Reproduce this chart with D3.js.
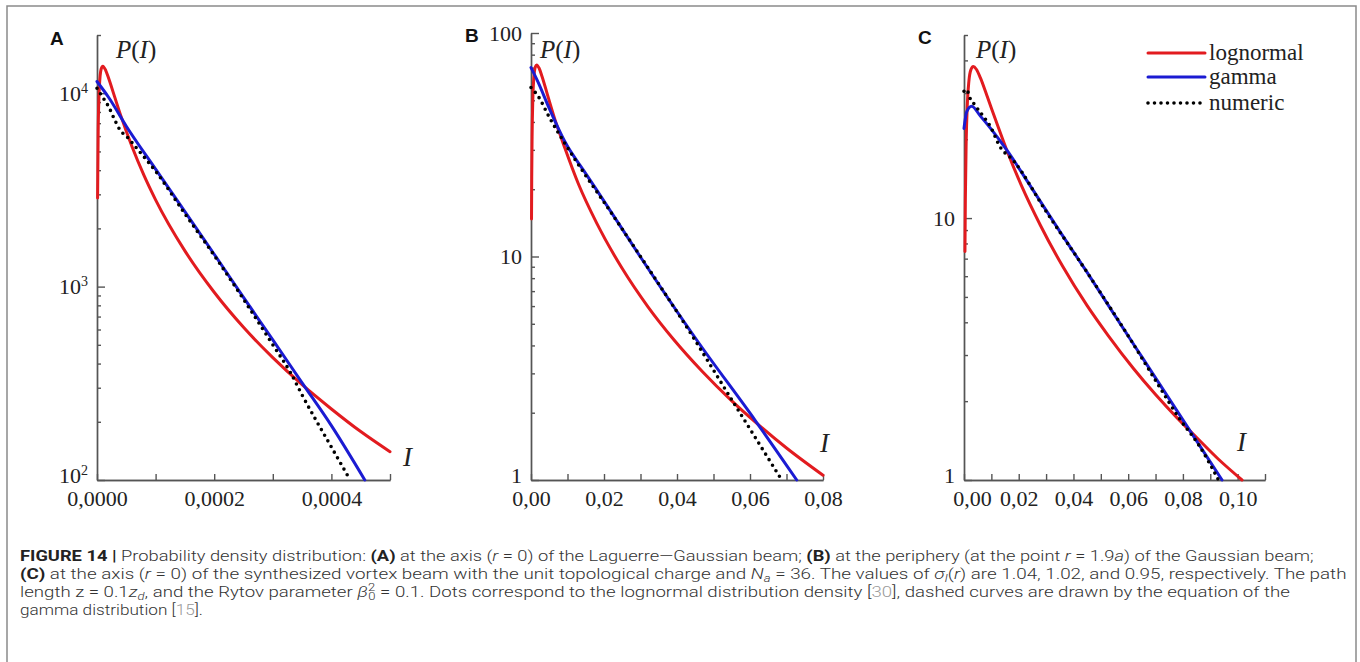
<!DOCTYPE html>
<html lang="en">
<head>
<meta charset="UTF-8">
<title>Figure 14</title>
<script src="https://cdn.jsdelivr.net/npm/d3@7"></script>
<style>
    body { margin: 0; padding: 0; background: #fff; }
    .axis path, .axis line { stroke: #555; stroke-width: 1.4; }
    .axis text { font-family: "Liberation Serif", "Times New Roman", serif; font-size: 22px; fill: #222; }
    .curve { fill: none; stroke-width: 3; stroke-linejoin: round; stroke-linecap: round; }
    .dots { fill: none; stroke: #000; stroke-width: 3.6; stroke-linecap: round; stroke-dasharray: 0 6.5; }
    .serif { font-family: "Liberation Serif", "Times New Roman", serif; fill: #222; }
    .plabel { font-family: "Liberation Sans", Arial, sans-serif; font-weight: bold; font-size: 19px; fill: #111; }
    .caption { font-family: Roboto, "Liberation Sans", sans-serif; font-size: 15px; font-weight: 300; fill: #333; }
</style>
</head>
<body>
<svg width="1360" height="662"></svg>
<script>
// значения: [I, P(I)]
var lognormalA = [[0.000001, 2870], [0.000002, 6350], [0.000004, 10700], [0.000007, 13300], [0.00001, 13800],
    [0.000015, 13100], [0.00002, 11900], [0.00003, 9600], [0.00004, 7750], [0.00006, 5270], [0.00008, 3770],
    [0.0001, 2810], [0.00015, 1530], [0.0002, 935], [0.00025, 616], [0.0003, 429], [0.00035, 311],
    [0.0004, 233], [0.00045, 178], [0.0005, 140]];
var gammaA = [[0, 11500], [0.00002, 9500], [0.00005, 6750], [0.0001, 4050], [0.00015, 2440], [0.0002, 1470],
    [0.00025, 880], [0.0003, 530], [0.00035, 318], [0.0004, 191], [0.000457, 100]];
var numericA = [[0, 10600], [0.00001, 9500], [0.00002, 8500], [0.00003, 7300], [0.00004, 6400], [0.00005, 6000],
    [0.00007, 5100], [0.0001, 3950], [0.00015, 2380], [0.0002, 1450], [0.00025, 860], [0.0003, 500],
    [0.00033, 360], [0.00035, 275], [0.0004, 148], [0.000432, 100]];

var lognormalB = [[0.00014, 14.7], [0.0002, 22.8], [0.0003, 34.3], [0.0005, 50.6], [0.0008, 63.7], [0.0012, 70.7],
    [0.00156, 72], [0.0022, 69.7], [0.003, 64.1], [0.0045, 53], [0.0065, 41.3], [0.0093, 30.5], [0.013, 21.1],
    [0.018, 14.1], [0.025, 8.83], [0.032, 5.97], [0.0392, 4.23], [0.047, 3.05], [0.055, 2.26], [0.0614, 1.82],
    [0.07, 1.39], [0.08, 1.05]];
var gammaB = [[0, 70], [0.002, 60], [0.005, 46], [0.0093, 32.6], [0.015, 23.5], [0.02, 17.7], [0.0299, 10],
    [0.0454, 4.23], [0.0614, 1.85], [0.0728, 1]];
var numericB = [[0, 57], [0.002, 52], [0.005, 42], [0.0093, 32], [0.015, 23], [0.02, 17.5], [0.03, 10],
    [0.0449, 4.23], [0.05, 3.1], [0.0564, 2.1], [0.06, 1.69], [0.0687, 1]];

var lognormalC = [[0.00035, 7.45], [0.0005, 11.9], [0.0008, 19.6], [0.0012, 27], [0.0018, 33.4], [0.0025, 36.8],
    [0.0034, 37.9], [0.0045, 37], [0.006, 34.3], [0.0085, 29.1], [0.012, 23], [0.0156, 18.2], [0.021, 13.3],
    [0.028, 9.35], [0.036, 6.56], [0.045, 4.63], [0.0527, 3.56], [0.062, 2.66], [0.07, 2.12], [0.0778, 1.73],
    [0.0851, 1.45], [0.093, 1.2], [0.1016, 1]];
var gammaC = [[0, 22], [0.001, 25.5], [0.0028, 26.7], [0.006, 24.5], [0.01, 21.8], [0.0156, 18.2], [0.025, 12.9],
    [0.035, 8.9], [0.045, 6.2], [0.055, 4.27], [0.065, 2.95], [0.075, 2.04], [0.085, 1.41], [0.0943, 1]];
var numericC = [[0, 30.5], [0.001, 31], [0.002, 29], [0.004, 27], [0.007, 24.5], [0.0095, 22.5], [0.0132, 18.7],
    [0.018, 16.6], [0.03, 10.6], [0.045, 6.2], [0.06, 3.55], [0.07, 2.4], [0.079, 1.7], [0.086, 1.35], [0.093, 1]];

// подписи осей
var xTicksA = [0, 0.0002, 0.0004], xLabelsA = ['0,0000', '0,0002', '0,0004'];
var xTicksB = [0, 0.02, 0.04, 0.06, 0.08], xLabelsB = ['0,00', '0,02', '0,04', '0,06', '0,08'];
var xTicksC = [0, 0.02, 0.04, 0.06, 0.08, 0.1], xLabelsC = ['0,00', '0,02', '0,04', '0,06', '0,08', '0,10'];
var xMinorA = [0.0001, 0.0003, 0.0005];
var xMinorB = [0.01, 0.03, 0.05, 0.07];
var xMinorC = [0.01, 0.03, 0.05, 0.07, 0.09, 0.11];
var yTicksA = [100, 1000, 10000], yTicksB = [1, 10, 100], yTicksC = [1, 10];
var seriesNames = ['lognormal', 'gamma', 'numeric'];
var seriesColors = ['#e21b1f', '#1b1bd2', '#000'];

var svg = d3.select('svg');

// рамка
svg.append('rect').attr('x', 7).attr('y', 6).attr('width', 1349).attr('height', 700)
    .attr('fill', 'none').attr('stroke', '#8a8a8a').attr('stroke-width', 1.5);

var panels = [
    {name: 'A', x0: 97, x1: 390, xMax: 0.0005, yDom: [100, 20000], yTop: 35, xT: xTicksA, xL: xLabelsA, xM: xMinorA,
        yT: yTicksA, pow: true, data: [lognormalA, gammaA, numericA], lx: 50, ly: 45, px: 116, ix: 403, iy: 466},
    {name: 'B', x0: 531, x1: 823, xMax: 0.08, yDom: [1, 100], yTop: 33, xT: xTicksB, xL: xLabelsB, xM: xMinorB,
        yT: yTicksB, pow: false, data: [lognormalB, gammaB, numericB], lx: 465, ly: 42, px: 540, ix: 820, iy: 452},
    {name: 'C', x0: 964, x1: 1265, xMax: 0.11, yDom: [1, 50], yTop: 35, xT: xTicksC, xL: xLabelsC, xM: xMinorC,
        yT: yTicksC, pow: false, data: [lognormalC, gammaC, numericC], lx: 918, ly: 44, px: 976, ix: 1237, iy: 451}
];
var yBase = 480;

panels.forEach(function (p) {
    var x = d3.scaleLinear().domain([0, p.xMax]).range([p.x0, p.x1]);
    var y = d3.scaleLog().domain(p.yDom).range([yBase, p.yTop]);
    var g = svg.append('g');

    // мелкие деления по y
    var minorY = y.ticks().filter(function (v) { return p.yT.indexOf(v) < 0; });
    g.append('g').attr('class', 'axis').attr('transform', 'translate(' + p.x0 + ',0)')
        .call(d3.axisLeft(y).tickValues(minorY).tickSize(-4).tickSizeOuter(0).tickFormat(''));
    var ya = g.append('g').attr('class', 'axis').attr('transform', 'translate(' + p.x0 + ',0)')
        .call(d3.axisLeft(y).tickValues(p.yT).tickSize(-8).tickSizeOuter(0).tickPadding(9)
            .tickFormat(function (d) { return String(d); }));
    if (p.pow) {
        ya.selectAll('.tick text').each(function (d) {
            var t = d3.select(this);
            t.text('');
            t.append('tspan').text('10');
            t.append('tspan').attr('dy', '-0.55em').attr('font-size', '14px').text(Math.round(Math.log10(d)));
        });
    }
    // нижняя подпись чуть выше, как на оригинале
    ya.selectAll('.tick text').filter(function (d) { return d === p.yDom[0]; }).attr('dy', '0.12em');

    g.append('g').attr('class', 'axis').attr('transform', 'translate(0,' + yBase + ')')
        .call(d3.axisBottom(x).tickValues(p.xM).tickSize(-6).tickSizeOuter(0).tickFormat(''));
    var xa = g.append('g').attr('class', 'axis').attr('transform', 'translate(0,' + yBase + ')')
        .call(d3.axisBottom(x).tickValues(p.xT).tickSize(-6).tickSizeOuter(0).tickPadding(10)
            .tickFormat(function (d, i) { return p.xL[i]; }));
    if (p.name === 'C') xa.select('.tick text').attr('dx', 8);

    var line = d3.line()
        .x(function (d) { return x(d[0]); })
        .y(function (d) { return y(d[1]); })
        .curve(d3.curveMonotoneX);

    p.data.forEach(function (s, i) {
        var path = g.append('path').datum(s).attr('d', line);
        if (i < 2) path.attr('class', 'curve').attr('stroke', seriesColors[i]);
        else path.attr('class', 'dots');
    });

    // подписи
    g.append('text').attr('class', 'plabel').attr('x', p.lx).attr('y', p.ly).text(p.name);
    var pt = g.append('text').attr('class', 'serif').attr('x', p.px).attr('y', 58).attr('font-size', 25);
    pt.append('tspan').attr('font-style', 'italic').text('P');
    pt.append('tspan').text('(');
    pt.append('tspan').attr('font-style', 'italic').text('I');
    pt.append('tspan').text(')');
    g.append('text').attr('class', 'serif').attr('x', p.ix).attr('y', p.iy).attr('font-size', 27)
        .attr('font-style', 'italic').text('I');
});

// легенда
var legY = [53, 77, 103];
seriesNames.forEach(function (n, i) {
    var l = svg.append('line').attr('x1', 1148).attr('x2', 1205).attr('y1', legY[i]).attr('y2', legY[i]);
    if (i < 2) l.attr('class', 'curve').attr('stroke', seriesColors[i]);
    else l.attr('class', 'dots');
    svg.append('text').attr('class', 'serif').attr('x', 1209).attr('y', legY[i] + 7)
        .attr('font-size', 23).text(n);
});

// подпись к рисунку
var captionLines = [
    [['FIGURE 14 |', 'B'], [' Probability density distribution: ', ''], ['(A)', 'B'], [' at the axis (', ''], ['r', 'I'],
        [' = 0) of the Laguerre\u2014Gaussian beam; ', ''], ['(B)', 'B'], [' at the periphery (at the point ', ''],
        ['r', 'I'], [' = 1.9', ''], ['a', 'I'], [') of the Gaussian beam;', '']],
    [['(C)', 'B'], [' at the axis (', ''], ['r', 'I'],
        [' = 0) of the synthesized vortex beam with the unit topological charge and ', ''], ['N', 'I'], ['a', 'I_'],
        [' = 36. The values of ', ''], ['\u03c3', 'I'], ['I', 'I_'], ['(', ''], ['r', 'I'],
        [') are 1.04, 1.02, and 0.95, respectively. The path', '']],
    [['length z = 0.1', ''], ['z', 'I'], ['d', 'I_'], [', and the Rytov parameter ', ''], ['\u03b2', 'I'], ['2', '^'],
        ['0', '~'], [' = 0.1. Dots correspond to the lognormal distribution density [', ''], ['30', 'G'],
        ['], dashed curves are drawn by the equation of the', '']],
    [['gamma distribution [', ''], ['15', 'G'], ['].', '']]
];
var capBase = [561, 579, 597, 615];
var capWidth = [1294, 1328, 1277, 183];

captionLines.forEach(function (segs, k) {
    var t = svg.append('text').attr('class', 'caption');
    var cur = 0;
    segs.forEach(function (s) {
        var ts = t.append('tspan').text(s[0]);
        var st = s[1], shift = 0;
        if (st.indexOf('B') >= 0) ts.attr('font-weight', 'bold').attr('fill', '#222');
        if (st.indexOf('I') >= 0) ts.attr('font-style', 'italic');
        if (st.indexOf('G') >= 0) ts.attr('fill', '#9a9a9a');
        if (st.indexOf('_') >= 0 || st.indexOf('~') >= 0) { shift = 3; ts.attr('font-size', 10.5); }
        if (st.indexOf('^') >= 0) { shift = -6; ts.attr('font-size', 10.5); }
        if (st.indexOf('~') >= 0) ts.attr('dx', -5.5);
        if (shift !== cur) { ts.attr('dy', shift - cur); cur = shift; }
    });
    var w = t.node().getComputedTextLength();
    t.attr('transform', 'translate(20,' + capBase[k] + ') scale(' + (capWidth[k] / w) + ',1)');
});
</script>
</body>
</html>
